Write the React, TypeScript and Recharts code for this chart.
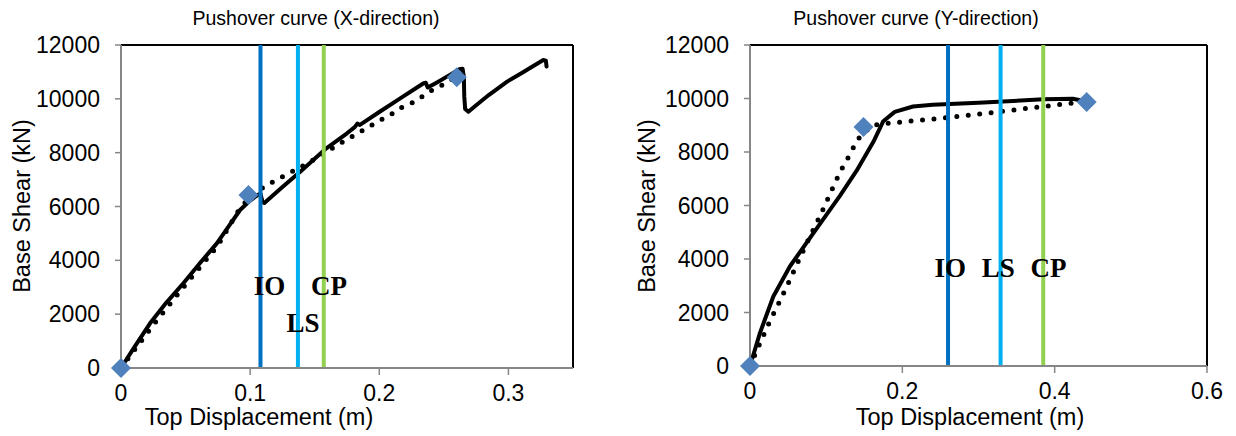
import React from 'react';
import { ComposedChart, Line, Scatter, XAxis, YAxis, ReferenceLine, ReferenceDot } from 'recharts';

// ---------- X-direction data ----------
const xSolid = [
  { x: 0, y: 0 }, { x: 0.01, y: 750 }, { x: 0.0225, y: 1660 }, { x: 0.035, y: 2420 },
  { x: 0.0483, y: 3150 }, { x: 0.0612, y: 3900 }, { x: 0.0742, y: 4630 }, { x: 0.0835, y: 5270 },
  { x: 0.0922, y: 5870 }, { x: 0.1, y: 6220 }, { x: 0.105, y: 6400 }, { x: 0.108, y: 6480 },
  { x: 0.1095, y: 6180 }, { x: 0.111, y: 6130 }, { x: 0.125, y: 6720 }, { x: 0.139, y: 7300 },
  { x: 0.159, y: 8160 }, { x: 0.175, y: 8720 }, { x: 0.181, y: 8950 }, { x: 0.183, y: 9080 },
  { x: 0.185, y: 9030 }, { x: 0.2, y: 9510 }, { x: 0.215, y: 9980 }, { x: 0.234, y: 10570 },
  { x: 0.236, y: 10600 }, { x: 0.2375, y: 10420 }, { x: 0.245, y: 10620 }, { x: 0.255, y: 10900 },
  { x: 0.262, y: 11100 }, { x: 0.2645, y: 11120 }, { x: 0.2655, y: 10800 }, { x: 0.2658, y: 10100 },
  { x: 0.2665, y: 9620 }, { x: 0.269, y: 9520 }, { x: 0.275, y: 9760 }, { x: 0.285, y: 10150 },
  { x: 0.299, y: 10640 }, { x: 0.31, y: 10950 }, { x: 0.327, y: 11440 }, { x: 0.329, y: 11420 },
  { x: 0.3295, y: 11200 },
];
const xDotted = [
  { x: 0, y: 0 }, { x: 0.025, y: 1600 }, { x: 0.05, y: 3100 }, { x: 0.075, y: 4550 },
  { x: 0.091, y: 5850 }, { x: 0.1, y: 6380 }, { x: 0.113, y: 6800 }, { x: 0.13, y: 7230 },
  { x: 0.1465, y: 7660 }, { x: 0.17, y: 8350 }, { x: 0.2008, y: 9210 }, { x: 0.2085, y: 9400 },
  { x: 0.216, y: 9650 }, { x: 0.225, y: 9840 }, { x: 0.233, y: 10080 }, { x: 0.241, y: 10330 },
  { x: 0.249, y: 10520 }, { x: 0.255, y: 10700 }, { x: 0.26, y: 10800 },
];
const xMarkers = [{ x: 0, y: 0 }, { x: 0.0987, y: 6430 }, { x: 0.26, y: 10800 }];
const xLevels = [
  { name: 'IO', x: 0.108, color: '#0070C0', labelX: 0.115, labelY: 3050 },
  { name: 'LS', x: 0.137, color: '#00B0F0', labelX: 0.141, labelY: 1700 },
  { name: 'CP', x: 0.157, color: '#92D050', labelX: 0.161, labelY: 3050 },
];
const xTicks = [0, 0.1, 0.2, 0.3];

// ---------- Y-direction data ----------
const ySolid = [
  { x: 0, y: 0 }, { x: 0.013, y: 1230 }, { x: 0.0306, y: 2600 }, { x: 0.0525, y: 3730 },
  { x: 0.0744, y: 4610 }, { x: 0.0963, y: 5490 }, { x: 0.118, y: 6360 }, { x: 0.14, y: 7300 },
  { x: 0.162, y: 8380 }, { x: 0.175, y: 9150 }, { x: 0.19, y: 9500 }, { x: 0.214, y: 9700 },
  { x: 0.24, y: 9770 }, { x: 0.3, y: 9840 }, { x: 0.385, y: 9970 }, { x: 0.424, y: 9990 },
  { x: 0.446, y: 9860 },
];
const yDotted = [
  { x: 0, y: 0 }, { x: 0.013, y: 850 }, { x: 0.026, y: 1670 }, { x: 0.039, y: 2420 },
  { x: 0.0525, y: 3230 }, { x: 0.0656, y: 4050 }, { x: 0.079, y: 4860 }, { x: 0.092, y: 5610 },
  { x: 0.105, y: 6430 }, { x: 0.118, y: 7240 }, { x: 0.133, y: 8000 }, { x: 0.14, y: 8430 },
  { x: 0.16, y: 9000 }, { x: 0.19, y: 9100 }, { x: 0.236, y: 9220 }, { x: 0.28, y: 9350 },
  { x: 0.328, y: 9510 }, { x: 0.376, y: 9670 }, { x: 0.42, y: 9820 }, { x: 0.441, y: 9880 },
];
const yMarkers = [{ x: 0, y: 0 }, { x: 0.149, y: 8930 }, { x: 0.442, y: 9870 }];
const yLevels = [
  { name: 'IO', x: 0.26, color: '#0070C0', labelX: 0.263, labelY: 3680 },
  { name: 'LS', x: 0.329, color: '#00B0F0', labelX: 0.326, labelY: 3680 },
  { name: 'CP', x: 0.385, color: '#92D050', labelX: 0.392, labelY: 3680 },
];
const yTicks = [0, 0.2, 0.4, 0.6];

const shearTicks = [0, 2000, 4000, 6000, 8000, 10000, 12000];

const FONT = '"Liberation Sans", Arial, sans-serif';
const AXIS_GRAY = '#868686';

const Diamond = (props: any) => {
  const { cx, cy } = props;
  const r = 10;
  return (
    <polygon
      points={`${cx},${cy - r} ${cx + r},${cy} ${cx},${cy + r} ${cx - r},${cy}`}
      fill="#4F81BD"
    />
  );
};

type PanelProps = {
  solid: { x: number; y: number }[];
  dotted: { x: number; y: number }[];
  markers: { x: number; y: number }[];
  levels: { name: string; x: number; color: string; labelX: number; labelY: number }[];
  ticks: number[];
  xMax: number;
  width: number;
  yAxisWidth: number;
  right: number;
  xAxisHeight: number;
};

const Panel = ({ solid, dotted, markers, levels, ticks, xMax, width, yAxisWidth, right, xAxisHeight }: PanelProps) => (
  <ComposedChart width={width} height={436} margin={{ top: 45, right, bottom: 0, left: 0 }}>
    <XAxis
      type="number"
      dataKey="x"
      domain={[0, xMax]}
      ticks={ticks}
      height={xAxisHeight}
      stroke={AXIS_GRAY}
      strokeWidth={2}
      tickSize={7}
      tickLine={{ stroke: AXIS_GRAY, strokeWidth: 1.5 }}
      tick={{ fill: '#000', fontSize: 23, fontFamily: FONT }}
      tickFormatter={(v: number) => String(v)}
      tickMargin={10}
    />
    <YAxis
      type="number"
      dataKey="y"
      domain={[0, 12000]}
      ticks={shearTicks}
      width={yAxisWidth}
      stroke={AXIS_GRAY}
      strokeWidth={2}
      tickSize={6}
      tickLine={{ stroke: AXIS_GRAY, strokeWidth: 1.5 }}
      tick={{ fill: '#000', fontSize: 23, fontFamily: FONT }}
      tickMargin={15}
    />
    <ReferenceLine y={12000} stroke="#000" strokeWidth={2} />
    <ReferenceLine x={xMax} stroke="#000" strokeWidth={2} />
    <Scatter data={markers} dataKey="y" shape={Diamond} isAnimationActive={false} />
    <Line
      data={dotted}
      dataKey="y"
      type="linear"
      dot={false}
      stroke="#000"
      strokeWidth={5}
      strokeDasharray="0 11.5"
      strokeLinecap="round"
      isAnimationActive={false}
    />
    <Line
      data={solid}
      dataKey="y"
      type="linear"
      dot={false}
      stroke="#000"
      strokeWidth={4}
      strokeLinejoin="round"
      strokeLinecap="round"
      isAnimationActive={false}
    />
    {levels.map((l) => (
      <ReferenceLine key={l.name} x={l.x} stroke={l.color} strokeWidth={4} />
    ))}
    {levels.map((l) => (
      <ReferenceDot
        key={'lbl' + l.name}
        x={l.labelX}
        y={l.labelY}
        r={0}
        fill="none"
        stroke="none"
        label={{
          value: l.name,
          position: 'center',
          fill: '#000',
          fontSize: 27,
          fontWeight: 'bold',
          fontFamily: '"Liberation Serif", "Times New Roman", serif',
        }}
      />
    ))}
  </ComposedChart>
);

export default function App() {
  return (
    <div style={{ position: 'absolute', left: 0, top: 0, width: 1236, height: 436, background: '#fff' }}>
      <div style={{ position: 'absolute', left: 0, top: 0 }}>
        <Panel
          solid={xSolid}
          dotted={xDotted}
          markers={xMarkers}
          levels={xLevels}
          ticks={xTicks}
          xMax={0.35}
          width={618}
          yAxisWidth={121}
          right={45}
          xAxisHeight={68}
        />
      </div>
      <div style={{ position: 'absolute', left: 618, top: 0 }}>
        <Panel
          solid={ySolid}
          dotted={yDotted}
          markers={yMarkers}
          levels={yLevels}
          ticks={yTicks}
          xMax={0.6}
          width={618}
          yAxisWidth={132}
          right={29}
          xAxisHeight={70}
        />
      </div>
      <svg
        width={1236}
        height={436}
        style={{ position: 'absolute', left: 0, top: 0, pointerEvents: 'none' }}
        fontFamily={FONT}
      >
        <text x={316} y={25} fontSize={19.5} textAnchor="middle" fill="#000">Pushover curve (X-direction)</text>
        <text x={916} y={25} fontSize={19.5} textAnchor="middle" fill="#000">Pushover curve (Y-direction)</text>
        <text x={259} y={425} fontSize={23.5} textAnchor="middle" fill="#000">Top Displacement (m)</text>
        <text x={970} y={425} fontSize={23.5} textAnchor="middle" fill="#000">Top Displacement (m)</text>
        <text x={0} y={0} fontSize={23.5} textAnchor="middle" fill="#000" transform="translate(30 206) rotate(-90)">Base Shear (kN)</text>
        <text x={0} y={0} fontSize={23.5} textAnchor="middle" fill="#000" transform="translate(655 206) rotate(-90)">Base Shear (kN)</text>
      </svg>
    </div>
  );
}
